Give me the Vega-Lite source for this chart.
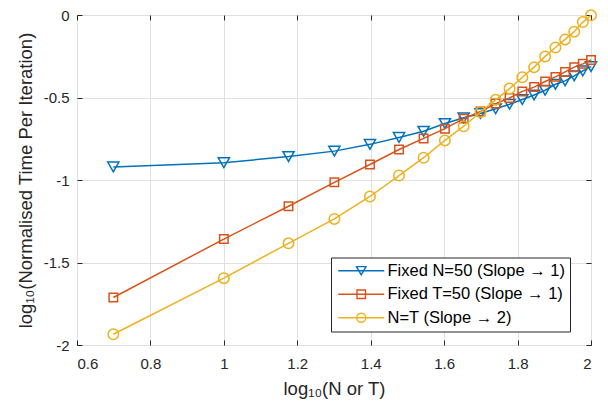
{
  "$schema": "https://vega.github.io/schema/vega-lite/v6.json",
  "width": 514,
  "height": 330,
  "autosize": {"type": "none"},
  "padding": {"left": 77, "top": 15, "right": 17, "bottom": 56},
  "background": "white",
  "config": {
    "font": "Liberation Sans",
    "view": {"stroke": "#262626", "strokeWidth": 1},
    "axis": {
      "labelFont": "Liberation Sans",
      "labelFontSize": 15,
      "labelColor": "#262626",
      "titleFont": "Liberation Sans",
      "titleFontSize": 18.5,
      "titleFontWeight": "normal",
      "titleColor": "#262626",
      "domainColor": "#262626",
      "tickColor": "#262626",
      "tickSize": -5,
      "gridColor": "#e0e0e0",
      "gridWidth": 1
    },
    "legend": {
      "title": null,
      "orient": "none",
      "legendX": 254,
      "legendY": 242.5,
      "fillColor": "white",
      "strokeColor": "#262626",
      "padding": 5,
      "symbolSize": 100,
      "symbolStrokeWidth": 1.4,
      "symbolOffset": 17,
      "labelFont": "Liberation Sans",
      "labelFontSize": 16.5,
      "labelColor": "#000000",
      "labelOffset": 18,
      "labelLimit": 400,
      "rowPadding": 6.5
    }
  },
  "data": {
    "values": [
      {"x": 0.69897, "y": -0.921, "series": "Fixed N=50 (Slope → 1)"},
      {"x": 1, "y": -0.895, "series": "Fixed N=50 (Slope → 1)"},
      {"x": 1.17609, "y": -0.858, "series": "Fixed N=50 (Slope → 1)"},
      {"x": 1.30103, "y": -0.825, "series": "Fixed N=50 (Slope → 1)"},
      {"x": 1.39794, "y": -0.784, "series": "Fixed N=50 (Slope → 1)"},
      {"x": 1.47712, "y": -0.742, "series": "Fixed N=50 (Slope → 1)"},
      {"x": 1.54407, "y": -0.705, "series": "Fixed N=50 (Slope → 1)"},
      {"x": 1.60206, "y": -0.658, "series": "Fixed N=50 (Slope → 1)"},
      {"x": 1.65321, "y": -0.623, "series": "Fixed N=50 (Slope → 1)"},
      {"x": 1.69897, "y": -0.597, "series": "Fixed N=50 (Slope → 1)"},
      {"x": 1.74036, "y": -0.568, "series": "Fixed N=50 (Slope → 1)"},
      {"x": 1.77815, "y": -0.541, "series": "Fixed N=50 (Slope → 1)"},
      {"x": 1.81291, "y": -0.512, "series": "Fixed N=50 (Slope → 1)"},
      {"x": 1.8451, "y": -0.485, "series": "Fixed N=50 (Slope → 1)"},
      {"x": 1.87506, "y": -0.456, "series": "Fixed N=50 (Slope → 1)"},
      {"x": 1.90309, "y": -0.42, "series": "Fixed N=50 (Slope → 1)"},
      {"x": 1.92942, "y": -0.399, "series": "Fixed N=50 (Slope → 1)"},
      {"x": 1.95424, "y": -0.369, "series": "Fixed N=50 (Slope → 1)"},
      {"x": 1.97772, "y": -0.339, "series": "Fixed N=50 (Slope → 1)"},
      {"x": 2, "y": -0.313, "series": "Fixed N=50 (Slope → 1)"},
      {"x": 0.69897, "y": -1.712, "series": "Fixed T=50 (Slope → 1)"},
      {"x": 1, "y": -1.358, "series": "Fixed T=50 (Slope → 1)"},
      {"x": 1.17609, "y": -1.159, "series": "Fixed T=50 (Slope → 1)"},
      {"x": 1.30103, "y": -1.014, "series": "Fixed T=50 (Slope → 1)"},
      {"x": 1.39794, "y": -0.906, "series": "Fixed T=50 (Slope → 1)"},
      {"x": 1.47712, "y": -0.815, "series": "Fixed T=50 (Slope → 1)"},
      {"x": 1.54407, "y": -0.748, "series": "Fixed T=50 (Slope → 1)"},
      {"x": 1.60206, "y": -0.689, "series": "Fixed T=50 (Slope → 1)"},
      {"x": 1.65321, "y": -0.628, "series": "Fixed T=50 (Slope → 1)"},
      {"x": 1.69897, "y": -0.585, "series": "Fixed T=50 (Slope → 1)"},
      {"x": 1.74036, "y": -0.537, "series": "Fixed T=50 (Slope → 1)"},
      {"x": 1.77815, "y": -0.503, "series": "Fixed T=50 (Slope → 1)"},
      {"x": 1.81291, "y": -0.463, "series": "Fixed T=50 (Slope → 1)"},
      {"x": 1.8451, "y": -0.437, "series": "Fixed T=50 (Slope → 1)"},
      {"x": 1.87506, "y": -0.403, "series": "Fixed T=50 (Slope → 1)"},
      {"x": 1.90309, "y": -0.375, "series": "Fixed T=50 (Slope → 1)"},
      {"x": 1.92942, "y": -0.345, "series": "Fixed T=50 (Slope → 1)"},
      {"x": 1.95424, "y": -0.316, "series": "Fixed T=50 (Slope → 1)"},
      {"x": 1.97772, "y": -0.296, "series": "Fixed T=50 (Slope → 1)"},
      {"x": 2, "y": -0.273, "series": "Fixed T=50 (Slope → 1)"},
      {"x": 0.69897, "y": -1.935, "series": "N=T (Slope → 2)"},
      {"x": 1, "y": -1.595, "series": "N=T (Slope → 2)"},
      {"x": 1.17609, "y": -1.384, "series": "N=T (Slope → 2)"},
      {"x": 1.30103, "y": -1.236, "series": "N=T (Slope → 2)"},
      {"x": 1.39794, "y": -1.1, "series": "N=T (Slope → 2)"},
      {"x": 1.47712, "y": -0.973, "series": "N=T (Slope → 2)"},
      {"x": 1.54407, "y": -0.865, "series": "N=T (Slope → 2)"},
      {"x": 1.60206, "y": -0.76, "series": "N=T (Slope → 2)"},
      {"x": 1.65321, "y": -0.674, "series": "N=T (Slope → 2)"},
      {"x": 1.69897, "y": -0.588, "series": "N=T (Slope → 2)"},
      {"x": 1.74036, "y": -0.514, "series": "N=T (Slope → 2)"},
      {"x": 1.77815, "y": -0.446, "series": "N=T (Slope → 2)"},
      {"x": 1.81291, "y": -0.377, "series": "N=T (Slope → 2)"},
      {"x": 1.8451, "y": -0.316, "series": "N=T (Slope → 2)"},
      {"x": 1.87506, "y": -0.251, "series": "N=T (Slope → 2)"},
      {"x": 1.90309, "y": -0.197, "series": "N=T (Slope → 2)"},
      {"x": 1.92942, "y": -0.148, "series": "N=T (Slope → 2)"},
      {"x": 1.95424, "y": -0.101, "series": "N=T (Slope → 2)"},
      {"x": 1.97772, "y": -0.043, "series": "N=T (Slope → 2)"},
      {"x": 2, "y": -0.002, "series": "N=T (Slope → 2)"}
    ]
  },
  "encoding": {
    "x": {"field": "x", "type": "quantitative", "scale": {"domain": [0.6, 2], "nice": false, "zero": false}, "axis": null},
    "y": {"field": "y", "type": "quantitative", "scale": {"domain": [-2, 0], "nice": false, "zero": false}, "axis": null}
  },
  "layer": [
    {
      "transform": [{"filter": "datum.series === 'Fixed N=50 (Slope → 1)'"}],
      "mark": {"type": "line", "strokeWidth": 1.5, "color": "#0072BD"},
      "encoding": {
        "x": {"field": "x", "type": "quantitative", "scale": {"domain": [0.6, 2], "nice": false, "zero": false},
          "axis": {"orient": "bottom", "values": [0.6, 0.8, 1, 1.2, 1.4, 1.6, 1.8, 2], "labelExpr": "toString(datum.value)", "grid": true, "domain": false, "labelPadding": 16.5, "title": "log₁₀(N or T)", "titlePadding": 8}},
        "y": {"field": "y", "type": "quantitative", "scale": {"domain": [-2, 0], "nice": false, "zero": false},
          "axis": {"orient": "left", "values": [-2, -1.5, -1, -0.5, 0], "labelExpr": "toString(datum.value)", "grid": true, "domain": false, "labelPadding": 13, "title": "log₁₀(Normalised Time Per Iteration)", "titlePadding": 8}}
      }
    },
    {
      "transform": [{"filter": "datum.series === 'Fixed N=50 (Slope → 1)'"}],
      "mark": {"type": "point", "filled": false, "strokeWidth": 1.5, "opacity": 1, "shape": "triangle-down", "size": 125, "color": "#0072BD"},
      "encoding": {}
    },
    {
      "transform": [{"filter": "datum.series === 'Fixed T=50 (Slope → 1)'"}],
      "mark": {"type": "line", "strokeWidth": 1.5, "color": "#D95319"},
      "encoding": {}
    },
    {
      "transform": [{"filter": "datum.series === 'Fixed T=50 (Slope → 1)'"}],
      "mark": {"type": "point", "filled": false, "strokeWidth": 1.5, "opacity": 1, "shape": "square", "size": 72, "color": "#D95319"},
      "encoding": {}
    },
    {
      "transform": [{"filter": "datum.series === 'N=T (Slope → 2)'"}],
      "mark": {"type": "line", "strokeWidth": 1.5, "color": "#EDB120"},
      "encoding": {}
    },
    {
      "transform": [{"filter": "datum.series === 'N=T (Slope → 2)'"}],
      "mark": {"type": "point", "filled": false, "strokeWidth": 1.5, "opacity": 1, "shape": "circle", "size": 110, "color": "#EDB120"},
      "encoding": {}
    },
    {
      "transform": [{"filter": "datum.x > 10"}],
      "mark": {"type": "point", "filled": false, "strokeWidth": 1.4, "opacity": 1},
      "encoding": {
        "color": {"field": "series", "type": "nominal",
          "scale": {"domain": ["Fixed N=50 (Slope → 1)", "Fixed T=50 (Slope → 1)", "N=T (Slope → 2)"], "range": ["#0072BD", "#D95319", "#EDB120"]}},
        "shape": {"field": "series", "type": "nominal",
          "scale": {"domain": ["Fixed N=50 (Slope → 1)", "Fixed T=50 (Slope → 1)", "N=T (Slope → 2)"], "range": ["M-4.6,0H4.6M-0.95,-0.82H0.95L0,0.82Z", "M-4.6,0H4.6M-0.85,-0.85H0.85V0.85H-0.85Z", "M-4.6,0H4.6M0.9,0A0.9,0.9,0,1,1,-0.9,0A0.9,0.9,0,1,1,0.9,0"]}}
      }
    },
    {
      "mark": {"type": "point", "opacity": 0},
      "encoding": {
        "x": {"field": "x", "type": "quantitative", "scale": {"domain": [0.6, 2], "nice": false, "zero": false},
          "axis": {"orient": "top", "values": [0.6, 0.8, 1, 1.2, 1.4, 1.6, 1.8, 2], "labels": false, "grid": false, "domain": false, "title": null}},
        "y": {"field": "y", "type": "quantitative", "scale": {"domain": [-2, 0], "nice": false, "zero": false},
          "axis": {"orient": "right", "values": [-2, -1.5, -1, -0.5, 0], "labels": false, "grid": false, "domain": false, "title": null}}
      }
    }
  ],
  "resolve": {"axis": {"x": "independent", "y": "independent"}}
}
